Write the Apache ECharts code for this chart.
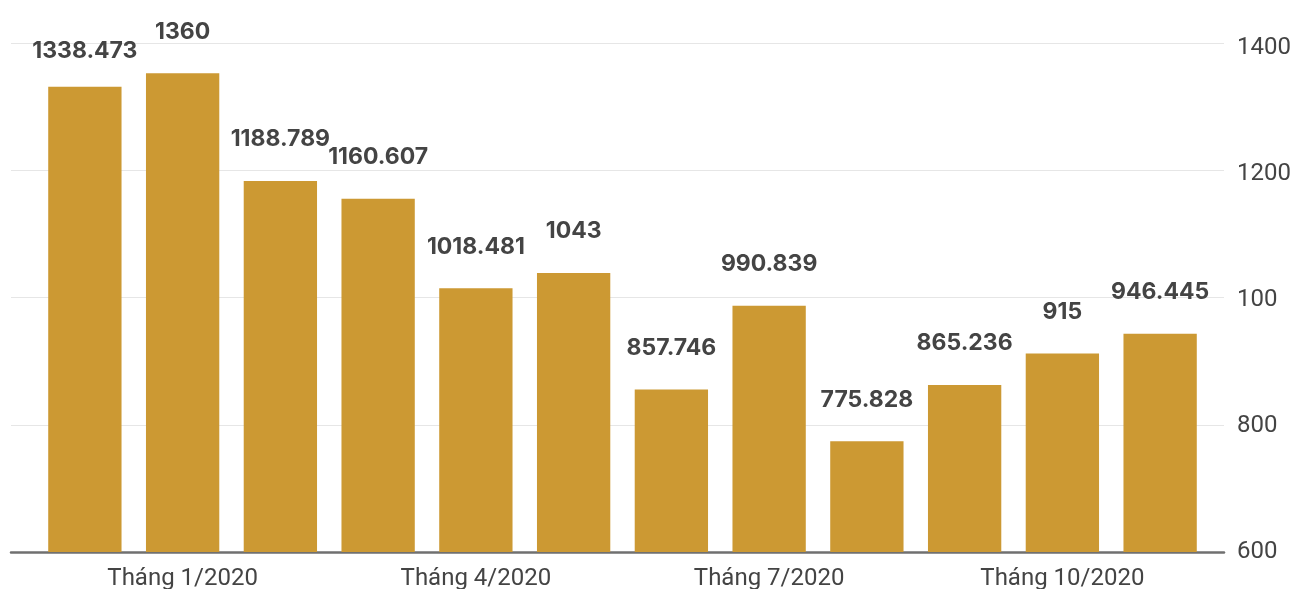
<!DOCTYPE html>
<html>
<head>
<meta charset="utf-8">
<script src="https://cdn.jsdelivr.net/npm/echarts@6/dist/echarts.min.js"></script>
<style>
  html, body { margin: 0; padding: 0; background: #fff; }
  #chart { width: 1293px; height: 589px; }
</style>
</head>
<body>
<div id="chart"></div>
<script>
// ---- data ----
var categories = ['Tháng 12/2019', 'Tháng 1/2020', 'Tháng 2/2020', 'Tháng 3/2020', 'Tháng 4/2020', 'Tháng 5/2020',
                  'Tháng 6/2020', 'Tháng 7/2020', 'Tháng 8/2020', 'Tháng 9/2020', 'Tháng 10/2020', 'Tháng 11/2020'];
var values = [1338.473, 1360, 1188.789, 1160.607, 1018.481, 1043, 857.746, 990.839, 775.828, 865.236, 915, 946.445];
var valueLabels = ['1338.473', '1360', '1188.789', '1160.607', '1018.481', '1043', '857.746', '990.839', '775.828', '865.236', '915', '946.445'];
var yTicks = [600, 800, 1000, 1200, 1400];
var yTickLabels = ['600', '800', '100', '1200', '1400'];

var chart = echarts.init(document.getElementById('chart'), null, { renderer: 'canvas' });

var barData = values.map(function (v, i) {
  var item = { value: v };
  if (i === 0) item.label = { offset: [0, 6] };
  return item;
});

var option = {
  animation: false,
  backgroundColor: '#ffffff',
  grid: [
    { left: 36, right: 84, top: 48, bottom: 37, outerBoundsMode: 'none', containLabel: false },
    { left: 11, right: 69, top: 43, bottom: 37, outerBoundsMode: 'none', containLabel: false }
  ],
  xAxis: [
    {
      type: 'category', gridIndex: 0, data: categories,
      axisLine: { show: false }, axisTick: { show: false },
      axisLabel: {
        interval: function (idx) { return idx % 3 === 1; },
        color: '#444444', fontFamily: 'Roboto', fontSize: 24, margin: 15
      }
    },
    {
      type: 'value', gridIndex: 1, min: 0, max: 1,
      axisLine: { show: true, lineStyle: { color: '#707070', width: 2.5 } },
      axisTick: { show: false }, axisLabel: { show: false }, splitLine: { show: false }
    }
  ],
  yAxis: [
    {
      type: 'value', gridIndex: 0, position: 'right',
      min: yTicks[0], max: yTicks[yTicks.length - 1], interval: 200,
      axisLine: { show: false }, axisTick: { show: false }, splitLine: { show: false },
      axisLabel: {
        color: '#444444', fontFamily: 'Roboto', fontSize: 24, margin: 28,
        formatter: function (v) {
          var i = yTicks.indexOf(v);
          return i >= 0 ? yTickLabels[i] : '';
        }
      }
    },
    {
      type: 'value', gridIndex: 1, position: 'right',
      min: yTicks[0], max: yTicks[yTicks.length - 1], interval: 200,
      axisLine: { show: false }, axisTick: { show: false }, axisLabel: { show: false },
      splitLine: { show: true, lineStyle: { color: '#e6e6e6', width: 1.2 } }
    }
  ],
  series: [
    {
      type: 'bar', xAxisIndex: 0, yAxisIndex: 0,
      data: barData,
      barCategoryGap: '25%',
      itemStyle: { color: '#CC9933' },
      label: {
        show: true, position: 'top', distance: 30,
        color: '#444444', fontFamily: 'Inter', fontWeight: 'bold', fontSize: 23,
        formatter: function (p) { return valueLabels[p.dataIndex]; }
      }
    }
  ]
};
chart.setOption(option);
</script>
</body>
</html>
